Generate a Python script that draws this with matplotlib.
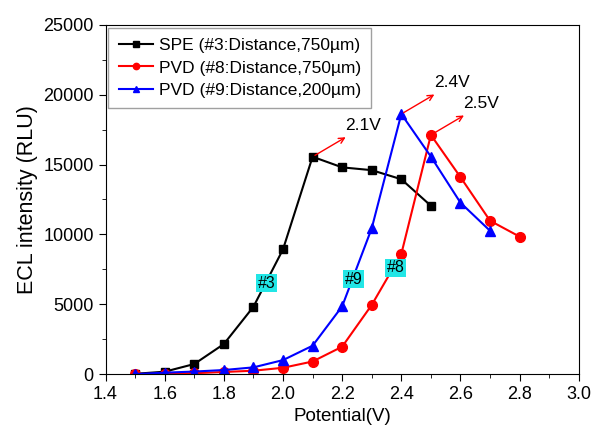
import matplotlib
matplotlib.use("Agg")
from matplotlib import pyplot as plt
from matplotlib.ticker import MultipleLocator

plt.rcParams["font.family"] = ["Liberation Sans", "DejaVu Sans"]

# data
potential_spe = [1.5, 1.6, 1.7, 1.8, 1.9, 2.0, 2.1, 2.2, 2.3, 2.4, 2.5]
ecl_spe = [20, 170, 720, 2150, 4820, 8930, 15560, 14800, 14600, 13950, 12050]

potential_pvd8 = [1.5, 1.6, 1.7, 1.8, 1.9, 2.0, 2.1, 2.2, 2.3, 2.4, 2.5, 2.6, 2.7, 2.8]
ecl_pvd8 = [0, 20, 60, 150, 240, 450, 900, 1960, 4950, 8600, 17120, 14100, 10980, 9840]

potential_pvd9 = [1.5, 1.6, 1.7, 1.8, 1.9, 2.0, 2.1, 2.2, 2.3, 2.4, 2.5, 2.6, 2.7]
ecl_pvd9 = [0, 100, 180, 290, 480, 1000, 2030, 4850, 10440, 18620, 15570, 12270, 10260]

series_labels = [
    "SPE (#3:Distance,750\u00b5m)",
    "PVD (#8:Distance,750\u00b5m)",
    "PVD (#9:Distance,200\u00b5m)",
]

# peak annotations: (peak x, peak y, text)
peaks = [(2.1, 15560, "2.1V"), (2.4, 18620, "2.4V"), (2.5, 17120, "2.5V")]
# curve tags: (x, y, text)
tags = [(1.945, 6500, "#3"), (2.238, 6800, "#9"), (2.38, 7600, "#8")]

fig = plt.figure(figsize=(5.93, 4.37), dpi=100)
ax = fig.add_axes([0.178, 0.144, 0.798, 0.799])

ax.plot(potential_spe, ecl_spe, color="black", marker="s", markersize=6,
        linewidth=1.5, label=series_labels[0])
ax.plot(potential_pvd8, ecl_pvd8, color="red", marker="o", markersize=7,
        linewidth=1.5, label=series_labels[1])
ax.plot(potential_pvd9, ecl_pvd9, color="blue", marker="^", markersize=7,
        linewidth=1.5, label=series_labels[2])

for x, y, txt in peaks:
    ax.annotate("", xy=(x + 0.12, y + 1500), xytext=(x, y),
                arrowprops=dict(arrowstyle="->", color="red", lw=1.0))
    ax.text(x + 0.11, y + 1700, txt, fontsize=12.5, ha="left", va="bottom")

for x, y, txt in tags:
    ax.text(x, y, txt, fontsize=11.5, ha="center", va="center",
            bbox=dict(boxstyle="square,pad=0.1", facecolor="#22e6e6", edgecolor="none"))

ax.set_xlim(1.4, 3.0)
ax.set_ylim(0, 25000)
ax.xaxis.set_major_locator(MultipleLocator(0.2))
ax.xaxis.set_minor_locator(MultipleLocator(0.1))
ax.yaxis.set_major_locator(MultipleLocator(5000))
ax.yaxis.set_minor_locator(MultipleLocator(2500))
ax.xaxis.set_major_formatter(matplotlib.ticker.FormatStrFormatter("%.1f"))
ax.tick_params(which="both", direction="out", top=False, right=False, labelsize=13)
ax.tick_params(which="major", length=5)
ax.tick_params(which="minor", length=3)

ax.set_xlabel("Potential(V)", fontsize=13.5)
ax.set_ylabel("ECL intensity (RLU)", fontsize=15.5)

leg = ax.legend(loc="upper left", fontsize=12.5, fancybox=False, edgecolor="#888888",
                borderaxespad=0.15, borderpad=0.6, handlelength=2.0,
                handletextpad=0.3, labelspacing=0.42, markerscale=0.65)
leg.get_frame().set_linewidth(1.0)

plt.savefig("out.png", dpi=100)
